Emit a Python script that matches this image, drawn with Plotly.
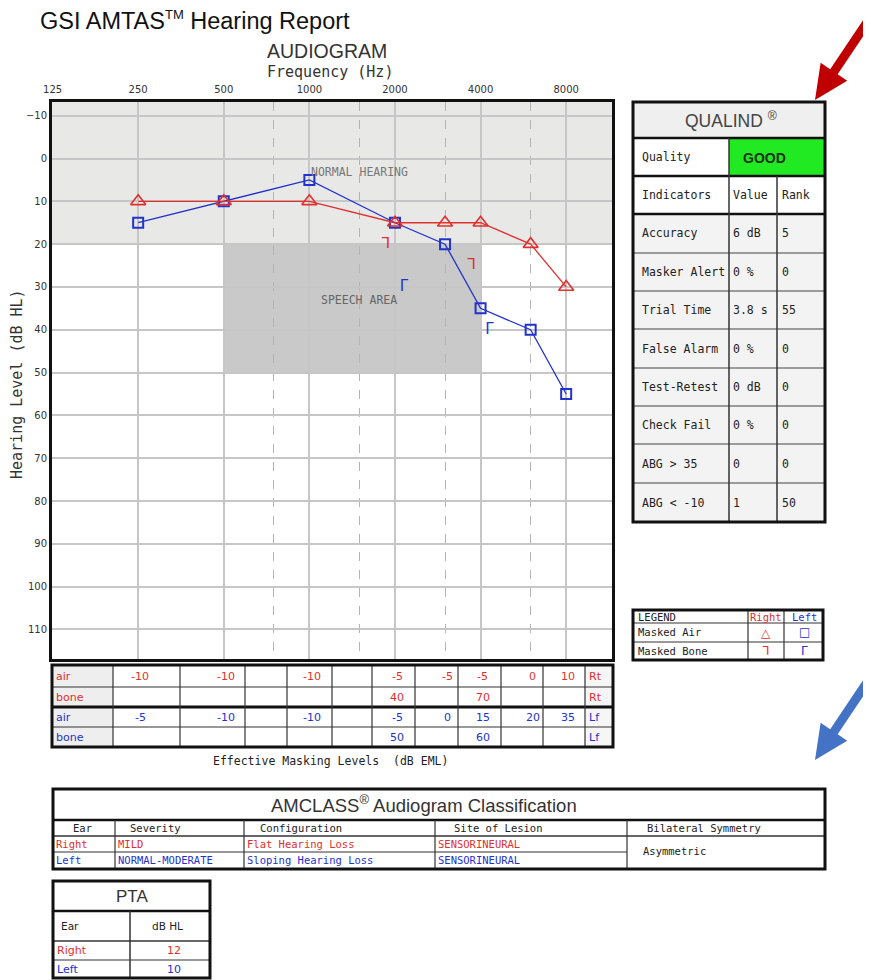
import math
import numpy as np
import plotly.graph_objects as go

# ---------------- data ----------------
freqs = [250, 500, 1000, 2000, 3000, 4000, 6000, 8000]
right_air = [10, 10, 10, 15, 15, 15, 20, 30]
left_air = [15, 10, 5, 15, 20, 35, 40, 55]
bone_freqs = [2000, 4000]
right_bone = [20, 25]
left_bone = [30, 40]

x_tick_vals = [125, 250, 500, 1000, 2000, 4000, 8000]
x_tick_text = ["125", "250", "500", "1000", "2000", "4000", "8000"]
x_minor_vals = [750, 1500, 3000, 6000]
y_tick_vals = list(range(-10, 111, 10))

mask_freqs = [250, 500, 750, 1000, 1500, 2000, 3000, 4000, 6000, 8000]
mask_right_air = [-10, -10, None, -10, None, -5, -5, -5, 0, 10]
mask_right_bone = [None, None, None, None, None, 40, None, 70, None, None]
mask_left_air = [-5, -10, None, -10, None, -5, 0, 15, 20, 35]
mask_left_bone = [None, None, None, None, None, 50, None, 60, None, None]

qual_quality = "GOOD"
qual_indicators = ["Accuracy", "Masker Alert", "Trial Time", "False Alarm",
                   "Test-Retest", "Check Fail", "ABG &gt; 35", "ABG &lt; -10"]
qual_values = ["6 dB", "0 %", "3.8 s", "0 %", "0 dB", "0 %", "0", "1"]
qual_ranks = ["5", "0", "55", "0", "0", "0", "0", "50"]

amclass_headers = ["Ear", "Severity", "Configuration", "Site of Lesion", "Bilateral Symmetry"]
amclass_right = ["Right", "MILD", "Flat Hearing Loss", "SENSORINEURAL"]
amclass_left = ["Left", "NORMAL-MODERATE", "Sloping Hearing Loss", "SENSORINEURAL"]
amclass_symmetry = "Asymmetric"

pta_ears = ["Right", "Left"]
pta_values = [12, 10]

# ---------------- style ----------------
RED = "#e0302e"
BLUE = "#2233cc"
MONO = "DejaVu Sans Mono"
SANS = "Liberation Sans"
SANS2 = "DejaVu Sans"
RIGHT_BONE_GLYPH = "⅂"
LEFT_BONE_GLYPH = "Γ"
NBSP = "\u00a0"
OFF = 8                      # page body margin
W, H = 871 - OFF, 980 - OFF  # figure size


def PX(x):
    return (x - OFF) / W


def PY(y):
    return 1 - (y - OFF) / H


shapes = []
annots = []


def rect(x0, y0, x1, y1, fill=None, lc=None, lw=0):
    shapes.append(dict(type="rect", xref="paper", yref="paper",
                       x0=PX(x0), x1=PX(x1), y0=PY(y1), y1=PY(y0),
                       fillcolor=fill if fill else "rgba(0,0,0,0)",
                       line=dict(color=lc if lc else "rgba(0,0,0,0)", width=lw),
                       layer="above"))


def seg(x0, y0, x1, y1, lc="#333", lw=1.2):
    shapes.append(dict(type="line", xref="paper", yref="paper",
                       x0=PX(x0), x1=PX(x1), y0=PY(y0), y1=PY(y1),
                       line=dict(color=lc, width=lw), layer="above"))


def text(x, y, s, size=11, color="#222", family=MONO, xa="left", ya="middle", **kw):
    annots.append(dict(xref="paper", yref="paper", x=PX(x), y=PY(y), text=s,
                       showarrow=False, font=dict(size=size, color=color, family=family),
                       xanchor=xa, yanchor=ya, **kw))


def arrow(tail, tip, hw, hl, hhw, color):
    tx, ty = tail
    qx, qy = tip
    dx, dy = qx - tx, qy - ty
    L = math.hypot(dx, dy)
    ux, uy = dx / L, dy / L
    nx, ny = -uy, ux
    bx, by = qx - ux * hl, qy - uy * hl
    pts = [(tx + nx * hw, ty + ny * hw), (bx + nx * hw, by + ny * hw),
           (bx + nx * hhw, by + ny * hhw), (qx, qy),
           (bx - nx * hhw, by - ny * hhw), (bx - nx * hw, by - ny * hw),
           (tx - nx * hw, ty - ny * hw)]
    path = "M " + " L ".join(f"{PX(x):.5f},{PY(y):.5f}" for x, y in pts) + " Z"
    shapes.append(dict(type="path", xref="paper", yref="paper", path=path,
                       fillcolor=color, line=dict(width=0), layer="above"))


fig = go.Figure()

# ---------------- audiogram traces ----------------
fig.add_trace(go.Scatter(x=freqs, y=left_air, mode="lines+markers",
                         line=dict(color=BLUE, width=1.3),
                         marker=dict(symbol="square-open", size=10, color=BLUE,
                                     line=dict(width=2, color=BLUE)),
                         hoverinfo="skip"))
fig.add_trace(go.Scatter(x=freqs, y=right_air, mode="lines+markers",
                         line=dict(color=RED, width=1.3),
                         marker=dict(symbol="triangle-up-open", size=13, color=RED,
                                     line=dict(width=1.6, color=RED)),
                         hoverinfo="skip"))
fig.add_trace(go.Scatter(x=bone_freqs, y=right_bone, mode="text",
                         text=[RIGHT_BONE_GLYPH + NBSP] * len(bone_freqs),
                         textposition="middle left",
                         textfont=dict(family=SANS2, size=15, color=RED),
                         hoverinfo="skip"))
fig.add_trace(go.Scatter(x=bone_freqs, y=left_bone, mode="text",
                         text=[NBSP + LEFT_BONE_GLYPH] * len(bone_freqs),
                         textposition="middle right",
                         textfont=dict(family=SANS2, size=15, color=BLUE),
                         hoverinfo="skip"))

# shaded regions (below grid)
shapes.append(dict(type="rect", xref="x domain", yref="y", x0=0, x1=1, y0=-13.2, y1=20,
                   fillcolor="#e8e8e6", line=dict(width=0), layer="below"))
shapes.append(dict(type="rect", xref="x", yref="y", x0=500, x1=4000, y0=20, y1=50,
                   fillcolor="#c9c9c9", line=dict(width=0), layer="below"))

annots.append(dict(xref="x", yref="y", x=math.log10(1500), y=3.2, text="NORMAL HEARING",
                   showarrow=False, font=dict(family=MONO, size=11.5, color="#777")))
annots.append(dict(xref="x", yref="y", x=math.log10(1500), y=33, text="SPEECH AREA",
                   showarrow=False, font=dict(family=MONO, size=11.5, color="#666")))

# ---------------- titles ----------------
text(38, 20, 'GSI AMTAS<sup><span style="font-size:13px">TM</span></sup> Hearing Report',
     size=23.5, color="#111", family=SANS)
text(327, 51, "AUDIOGRAM", size=19.5, color="#333", family=SANS, xa="center")
text(330, 72, "Frequency (Hz)", size=15, color="#333", family=MONO, xa="center")
text(17, 384, "Hearing Level (dB HL)", size=15, color="#333", family=MONO, xa="center",
     textangle=-90)

# ---------------- QUALIND table ----------------
qx = [633, 729, 777, 825]
qy = [102, 138, 176, 214, 253, 291, 329, 368, 406, 444, 483, 522]
rect(qx[0], qy[0], qx[3], qy[1], fill="#efefef")
rect(qx[0], qy[1], qx[1], qy[2], fill="white")
rect(qx[1], qy[1], qx[3], qy[2], fill="#22ea22")
rect(qx[0], qy[2], qx[3], qy[3], fill="white")
rect(qx[0], qy[3], qx[3], qy[-1], fill="#f3f3f3")
for i, yy in enumerate(qy[1:-1]):
    seg(qx[0], yy, qx[3], yy, lc="#111" if i < 3 else "#444", lw=2.5 if i < 3 else 1.2)
seg(qx[1], qy[1], qx[1], qy[-1], lc="#333", lw=1.5)
seg(qx[2], qy[2], qx[2], qy[-1], lc="#333", lw=1.5)
rect(qx[0], qy[0], qx[3], qy[-1], lc="#111", lw=3)
text(731, 120, "QUALIND <sup>®</sup>", size=17.5, color="#444", family=SANS, xa="center")
text(640, 157, "Quality", size=11.5)
text(764, 158, "<b>" + qual_quality + "</b>", size=14, color="#1a301a", family=SANS,
     xa="center")
text(640, 195, "Indicators", size=11.5)
text(731, 195, "Value", size=11.5)
text(780, 195, "Rank", size=11.5)
for i, (nm, v, r) in enumerate(zip(qual_indicators, qual_values, qual_ranks)):
    yc = (qy[3 + i] + qy[4 + i]) / 2
    text(640, yc, nm, size=11.5)
    text(731, yc, v, size=11.5)
    text(780, yc, r, size=11.5)

# ---------------- legend table ----------------
lx = [633, 748, 784, 823]
ly = [610, 623, 642, 660]
rect(lx[0], ly[0], lx[3], ly[3], fill="white")
for yy in ly[1:-1]:
    seg(lx[0], yy, lx[3], yy, lc="#333", lw=1.2)
for xx in lx[1:-1]:
    seg(xx, ly[0], xx, ly[3], lc="#333", lw=1.2)
rect(lx[0], ly[0], lx[3], ly[3], lc="#111", lw=3)
text(636, 617, "LEGEND", size=10.5)
text(766, 617, "Right", size=10.5, color=RED, xa="center")
text(804, 617, "Left", size=10.5, color=BLUE, xa="center")
text(636, 632, "Masked Air", size=10.5)
text(636, 651, "Masked Bone", size=10.5)
text(766, 633, "△", size=12, color=RED, family=SANS2, xa="center")
text(804, 632, "□", size=12, color=BLUE, family=SANS2, xa="center")
text(766, 651, RIGHT_BONE_GLYPH, size=12, color=RED, family=SANS2, xa="center")
text(804, 651, LEFT_BONE_GLYPH, size=12, color=BLUE, family=SANS2, xa="center")

# ---------------- masking table ----------------
mx = [52, 113, 180, 245, 287, 332, 372, 415, 458, 501, 543, 585, 613]
my = [665, 687, 707, 727, 747]
rect(mx[0], my[0], mx[-1], my[-1], fill="white")
rect(mx[0], my[0], mx[1], my[-1], fill="#eeeeee")
rect(mx[-2], my[0], mx[-1], my[-1], fill="#f6f6f6")
for yy in my[1:-1]:
    seg(mx[0], yy, mx[-1], yy, lc="#111" if yy == 707 else "#333",
        lw=3 if yy == 707 else 1.2)
for xx in mx[1:-1]:
    seg(xx, my[0], xx, my[-1], lc="#333", lw=1.2)
rect(mx[0], my[0], mx[-1], my[-1], lc="#111", lw=3)
mask_rows = [(mask_right_air, RED, "air", "Rt"), (mask_right_bone, RED, "bone", "Rt"),
             (mask_left_air, BLUE, "air", "Lf"), (mask_left_bone, BLUE, "bone", "Lf")]
for i, (vals, col, lab, ear) in enumerate(mask_rows):
    yc = (my[i] + my[i + 1]) / 2
    text(54, yc, lab, size=11, color=col, family=SANS2)
    text(587, yc, ear, size=11, color=col, family=SANS2)
    for f, v in zip(mask_freqs, vals):
        if v is not None:
            annots.append(dict(xref="x", yref="paper", x=math.log10(f) + 0.008, y=PY(yc),
                               text=str(v), showarrow=False, xanchor="center",
                               yanchor="middle",
                               font=dict(size=11, color=col, family=SANS2)))
text(330, 761, "Effective Masking Levels  (dB EML)", size=11.5, color="#222", xa="center")

# ---------------- AMCLASS table ----------------
ax_ = [53, 115, 244, 435, 627, 825]
ay_ = [789, 820, 836, 852, 869]
rect(ax_[0], ay_[0], ax_[-1], ay_[-1], fill="white")
seg(ax_[0], ay_[1], ax_[-1], ay_[1], lc="#111", lw=2.5)
seg(ax_[0], ay_[2], ax_[-1], ay_[2], lc="#333", lw=1.5)
seg(ax_[0], ay_[3], ax_[-2], ay_[3], lc="#333", lw=1.2)
for xx in ax_[1:-1]:
    seg(xx, ay_[1], xx, ay_[-1], lc="#333", lw=1.2)
rect(ax_[0], ay_[0], ax_[-1], ay_[-1], lc="#111", lw=3)
text(424, 804, "AMCLASS<sup>®</sup> Audiogram Classification", size=18.5, color="#333",
     family=SANS, xa="center")
hdr_off = [18, 13, 14, 17, 18]
for x0, off, h in zip(ax_[:-1], hdr_off, amclass_headers):
    text(x0 + off, 828, h, size=10.5)
for i, (r, l) in enumerate(zip(amclass_right, amclass_left)):
    text(ax_[i] + 1, 844, r, size=10.5, color=RED)
    text(ax_[i] + 1, 860, l, size=10.5, color=BLUE)
text(ax_[4] + 14, 851, amclass_symmetry, size=10.5)

# ---------------- PTA table ----------------
pxs = [53, 130, 210]
pys = [881, 911, 941, 960, 978]
rect(pxs[0], pys[0], pxs[-1], pys[-1], fill="white")
seg(pxs[0], pys[1], pxs[-1], pys[1], lc="#111", lw=2.5)
seg(pxs[0], pys[2], pxs[-1], pys[2], lc="#333", lw=1.5)
seg(pxs[0], pys[3], pxs[-1], pys[3], lc="#333", lw=1.2)
seg(pxs[1], pys[1], pxs[1], pys[-1], lc="#333", lw=1.5)
rect(pxs[0], pys[0], pxs[-1], pys[-1], lc="#111", lw=3)
text(132, 896, "PTA", size=17, color="#333", family=SANS, xa="center")
text(70, 926, "Ear", size=10.5, family=SANS2, xa="center")
text(167, 926, "dB HL", size=10.5, family=SANS2, xa="center")
for i, (e, v) in enumerate(zip(pta_ears, pta_values)):
    yc = (pys[2 + i] + pys[3 + i]) / 2
    col = RED if i == 0 else BLUE
    text(55, yc, e, size=11, color=col, family=SANS2)
    text(183, yc, str(v), size=11, color=col, family=SANS2, xa="right")

# ---------------- arrows ----------------
arrow((882, 0), (815, 100), 4.5, 34, 16, "#c00000")
arrow((882, 660), (815, 760), 4.5, 34, 16, "#4472c4")

# ---------------- layout ----------------
lo = math.log10(125) - 0.002
hi = lo + (612 - 52) / 85.6 * math.log10(2)
fig.update_layout(
    width=W, height=H,
    margin=dict(l=0, r=0, t=0, b=0, autoexpand=False),
    paper_bgcolor="white", plot_bgcolor="white",
    showlegend=False,
    shapes=shapes, annotations=annots,
    xaxis=dict(type="log", domain=[PX(52), PX(612)], range=[lo, hi], side="top",
               tickmode="array", tickvals=x_tick_vals, ticktext=x_tick_text,
               showgrid=True, gridcolor="#c6c6c6", gridwidth=1.5,
               minor=dict(tickmode="array", tickvals=x_minor_vals, showgrid=True,
                          gridcolor="#b4b4b4", griddash="dash", gridwidth=1, ticks=""),
               showline=True, mirror=True, linecolor="#111", linewidth=3,
               ticks="", ticklabelstandoff=2, zeroline=False, fixedrange=True,
               tickfont=dict(family=SANS2, size=10, color="#333")),
    yaxis=dict(domain=[PY(659), PY(102)], range=[116.9, -13.2],
               tickmode="array", tickvals=y_tick_vals,
               showgrid=True, gridcolor="#c6c6c6", gridwidth=2,
               showline=True, mirror=True, linecolor="#111", linewidth=3,
               ticks="", zeroline=False, fixedrange=True,
               tickfont=dict(family=SANS2, size=10, color="#333")),
)

fig.write_html("out.html")
